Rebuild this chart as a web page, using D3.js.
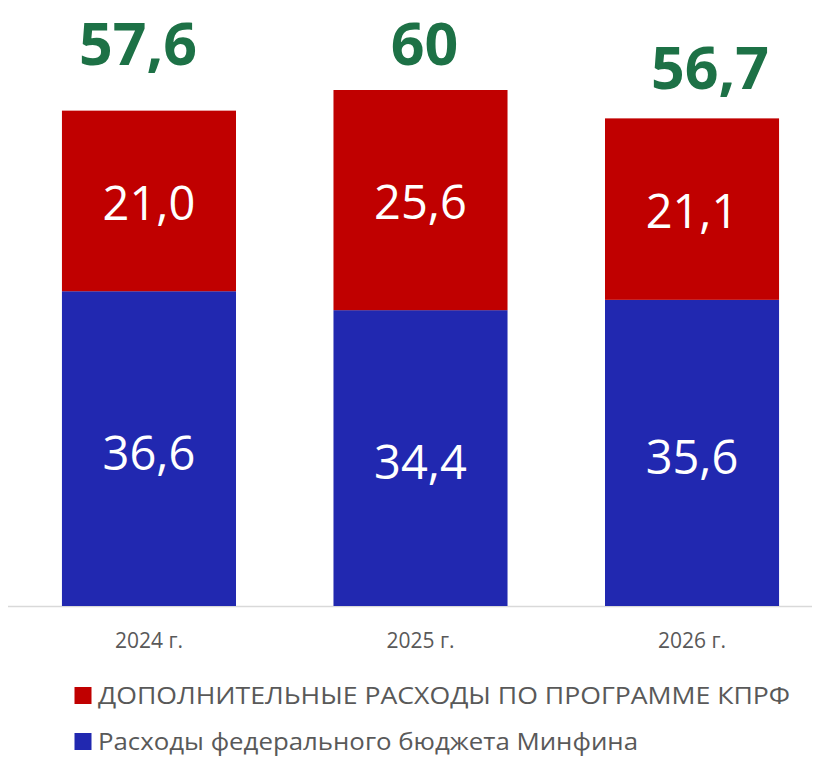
<!DOCTYPE html>
<html><head><meta charset="utf-8">
<script src="https://cdn.jsdelivr.net/npm/d3@7"></script>
<style>body{margin:0;background:#fff}svg{display:block}</style>
</head><body>
<script>
const categories = ["2024 г.", "2025 г.", "2026 г."];
const minfin = [36.6, 34.4, 35.6];
const kprf = [21.0, 25.6, 21.1];
const totals = ["57,6", "60", "56,7"];
const legendLabels = ["ДОПОЛНИТЕЛЬНЫЕ РАСХОДЫ ПО ПРОГРАММЕ КПРФ", "Расходы федерального бюджета Минфина"];

const W = 820, H = 758;
const svg = d3.select("body").append("svg").attr("width", W).attr("height", H);
const font = "'Open Sans', sans-serif";
const x = d3.scaleBand().domain(categories).range([18.5, 822.5]).paddingInner(0.359).paddingOuter(0.16);
const y = d3.scaleLinear().domain([0, 60]).range([606, 90]);
const blue = "#2128b0", red = "#c00000", green = "#1d7146";

// axis baseline
svg.append("line").attr("x1", 8).attr("x2", 812).attr("y1", 606.5).attr("y2", 606.5)
  .attr("stroke", "#d9d9d9").attr("stroke-width", 1.5);

const data = categories.map((c, i) => ({c, a: minfin[i], b: kprf[i], t: totals[i]}));
const g = svg.append("g");
g.selectAll("rect.blue").data(data).join("rect").attr("class","blue")
  .attr("x", d => x(d.c)).attr("width", x.bandwidth())
  .attr("y", d => y(d.a)).attr("height", d => y(0) - y(d.a)).attr("fill", blue);
g.selectAll("rect.red").data(data).join("rect").attr("class","red")
  .attr("x", d => x(d.c)).attr("width", x.bandwidth())
  .attr("y", d => y(d.a + d.b)).attr("height", d => y(d.a) - y(d.a + d.b)).attr("fill", red);

const fmt = v => v.toFixed(1).replace(".", ",");
g.selectAll("text.bv").data(data).join("text").attr("class","bv")
  .attr("x", d => x(d.c) + x.bandwidth()/2).attr("y", d => (y(d.a) + y(0))/2 + 21)
  .attr("text-anchor","middle").attr("fill","#fff").attr("font-family",font)
  .attr("font-size", 47).text(d => fmt(d.a));
g.selectAll("text.rv").data(data).join("text").attr("class","rv")
  .attr("x", d => x(d.c) + x.bandwidth()/2).attr("y", d => (y(d.a + d.b) + y(d.a))/2 + 19)
  .attr("text-anchor","middle").attr("fill","#fff").attr("font-family",font)
  .attr("font-size", 47).text(d => fmt(d.b));

// totals (placed as in reference)
const totalDx = [-11, 4, 18];
const totalDy = [-46, -25, -29];
g.selectAll("text.tot").data(data).join("text").attr("class","tot")
  .attr("x", (d, i) => x(d.c) + x.bandwidth()/2 + totalDx[i])
  .attr("y", (d, i) => y(d.a + d.b) + totalDy[i])
  .attr("text-anchor","middle").attr("fill",green).attr("font-family",font)
  .attr("font-weight","bold").attr("font-size", 59).text(d => d.t);

// x labels
g.selectAll("text.xl").data(data).join("text").attr("class","xl")
  .attr("x", d => x(d.c) + x.bandwidth()/2).attr("y", 648)
  .attr("text-anchor","middle").attr("fill","#595959").attr("font-family",font)
  .attr("font-size", 21).text(d => d.c);

// legend
const leg = svg.append("g");
const lc = [red, blue];
const ly = [704, 750];
const lw = [692, 540];
legendLabels.forEach((t, i) => {
  leg.append("rect").attr("x", 74.5).attr("y", ly[i]-17).attr("width", 17).attr("height", 17).attr("fill", lc[i]);
  leg.append("text").attr("x", 98).attr("y", ly[i]).attr("fill","#595959")
    .attr("font-family",font).attr("font-size", 24)
    .attr("textLength", lw[i]).attr("lengthAdjust", "spacingAndGlyphs").text(t);
});
</script>
</body></html>
